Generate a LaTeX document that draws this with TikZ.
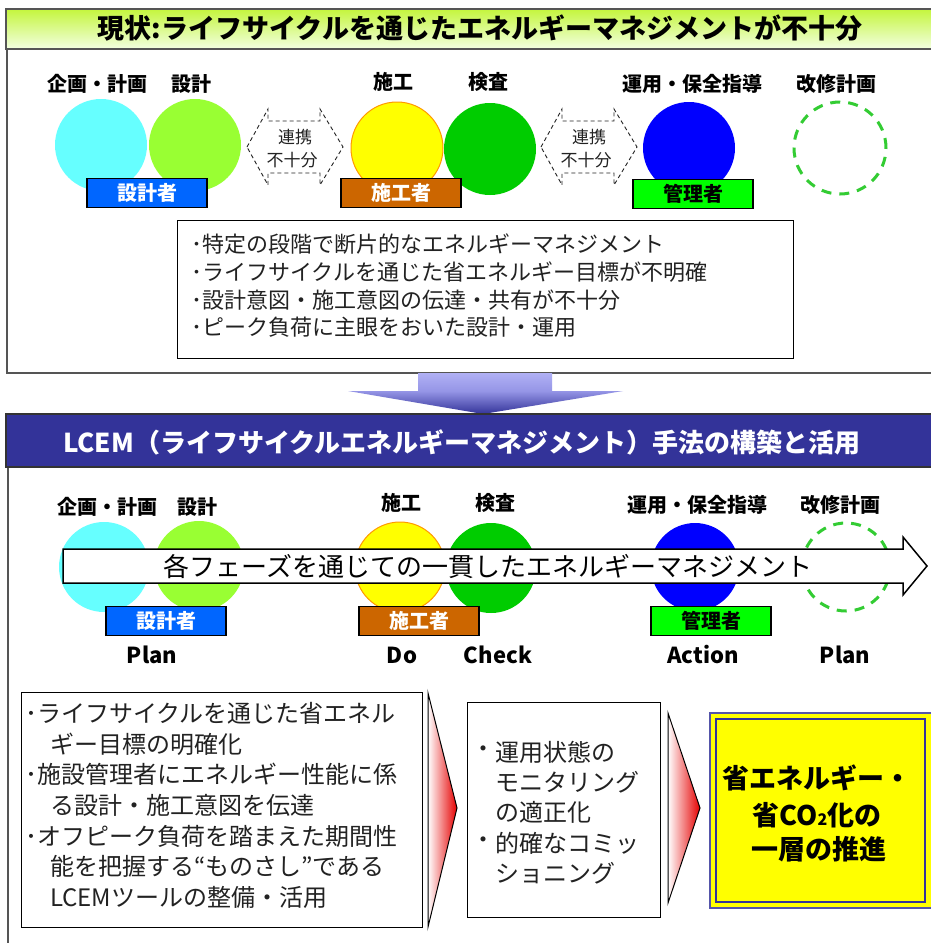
\documentclass[tikz,border=0pt]{standalone}
\usepackage{fontspec}
\setmainfont{Noto Sans CJK JP}
\definecolor{cCyan}{HTML}{66FFFF}
\definecolor{cLime}{HTML}{99FF33}
\definecolor{cYellow}{HTML}{FFFF00}
\definecolor{cOrange}{HTML}{FF9900}
\definecolor{cGreen}{HTML}{00CC00}
\definecolor{cBlue}{HTML}{0000FF}
\definecolor{cDash}{HTML}{33CC33}
\definecolor{rBlue}{HTML}{0066FF}
\definecolor{rBrown}{HTML}{CC6600}
\definecolor{rGreen}{HTML}{00FF00}
\definecolor{navy}{HTML}{333399}
\definecolor{frameGray}{HTML}{555555}
\definecolor{textGray}{HTML}{222222}
\definecolor{barTop}{HTML}{C4F53C}
\definecolor{barBot}{HTML}{F2FFE0}
\definecolor{lav}{HTML}{B0B0F5}
\definecolor{lav2}{HTML}{9595E6}
\definecolor{outerBlue}{HTML}{5555AA}
\tikzset{
  frameline/.style={draw=frameGray, line width=2pt},
  tlabel/.style={font=\bfseries\fontsize{20}{20}\selectfont, inner sep=0},
  rolebox/.style={draw=black, line width=1.2pt, minimum width=120pt, minimum height=29pt, inner sep=0, font=\bfseries\fontsize{20}{20}\selectfont},
  phase/.style={circle, minimum size=92pt, inner sep=0},
  pdca/.style={font=\bfseries\fontsize{22}{22}\selectfont, inner sep=0},
  bodytext/.style={font=\fontsize{22}{22}\selectfont, anchor=west, inner sep=0, text=textGray},
  lowtext/.style={font=\fontsize{24}{24}\selectfont, anchor=west, inner sep=0, text=textGray},
  linkarrow/.style={draw=textGray, line width=0.9pt, dash pattern=on 4pt off 3pt},
  linktext/.style={font=\fontsize{17}{17}\selectfont, inner sep=0, text=textGray},
  chevron/.style={draw=black, line width=1pt, left color=white, right color=red!90!black}
}
\begin{document}
\begin{tikzpicture}[x=1pt,y=-1pt]
\useasboundingbox (0,0) rectangle (931,943);
\fill[white] (0,0) rectangle (931,943);

% ---------------- top section ----------------
\draw[frameline] (7,48) -- (7,373) -- (945,373);
\node[draw=frameGray, line width=1.5pt, top color=barTop, bottom color=barBot,
      minimum width=940pt, minimum height=40pt, anchor=north west, inner sep=0] (bar1) at (5,8) {};
\node[text=black, font=\bfseries\fontsize{27}{27}\selectfont] (title1) at (480,28) {現状:ライフサイクルを通じたエネルギーマネジメントが不十分};

% circles
\node[phase, fill=cCyan] (a1) at (101,145) {};
\node[phase, fill=cLime] (a2) at (195,145) {};
\node[phase, fill=cYellow, draw=cOrange, line width=1pt] (a3) at (397,148) {};
\node[phase, fill=cGreen] (a4) at (490,149) {};
\node[phase, fill=cBlue] (a5) at (689,148) {};
\node[phase, draw=cDash, line width=3pt, dash pattern=on 10pt off 8pt, minimum size=92pt] (a6) at (840,148) {};

% labels
\node[tlabel] (la1) at (97,84) {企画・計画};
\node[tlabel] (la2) at (191,84) {設計};
\node[tlabel] (la3) at (393,82) {施工};
\node[tlabel] (la4) at (488,82) {検査};
\node[tlabel] (la5) at (692,84) {運用・保全指導};
\node[tlabel] (la6) at (836,84) {改修計画};

% role boxes
\node[rolebox, fill=rBlue, text=white] (ra1) at (147,193) {設計者};
\node[rolebox, fill=rBrown, text=white] (ra2) at (401,193) {施工者};
\node[rolebox, fill=rGreen, text=black] (ra3) at (693,194) {管理者};

% link arrows
\begin{scope}[shift={(295,147)}]
  \draw[linkarrow] (-48,0) -- (-27,-38) -- (-27,-26) -- (25,-26) -- (25,-38) -- (48,0)
     -- (25,38) -- (25,26) -- (-27,26) -- (-27,38) -- cycle;
  \node[linktext] (k1a) at (0,-10) {連携};
  \node[linktext] (k1b) at (-3,13) {不十分};
\end{scope}
\begin{scope}[shift={(589,147)}]
  \draw[linkarrow] (-48,0) -- (-27,-38) -- (-27,-26) -- (25,-26) -- (25,-38) -- (48,0)
     -- (25,38) -- (25,26) -- (-27,26) -- (-27,38) -- cycle;
  \node[linktext] (k2a) at (0,-10) {連携};
  \node[linktext] (k2b) at (-3,13) {不十分};
\end{scope}

% problem box
\node[draw=black, line width=1pt, fill=white, minimum width=616pt, minimum height=138pt,
      anchor=north west, inner sep=0] (pbox) at (177,220) {};
\node[bodytext] (p1) at (191,244) {･特定の段階で断片的なエネルギーマネジメント};
\node[bodytext] (p2) at (191,272) {･ライフサイクルを通じた省エネルギー目標が不明確};
\node[bodytext] (p3) at (191,300) {･設計意図・施工意図の伝達・共有が不十分};
\node[bodytext] (p4) at (191,327) {･ピーク負荷に主眼をおいた設計・運用};

% down arrow
\shade[top color=lav, bottom color=lav2] (418,373) rectangle (552,391);
\shade[top color=lav2, bottom color=navy] (348,391) -- (623,391) -- (483,414) -- cycle;

% ---------------- bottom section ----------------
\draw[frameline] (8,466) -- (8,950);
\node[draw=black!80, line width=1.5pt, fill=navy, minimum width=940pt, minimum height=53pt,
      anchor=north west, inner sep=0] (bar2) at (5,413) {};
\node[text=white, font=\bfseries\fontsize{26}{26}\selectfont] (title2) at (462,442) {LCEM（ライフサイクルエネルギーマネジメント）手法の構築と活用};

\node[phase, fill=cCyan, minimum size=90pt] (b1) at (104,567) {};
\node[phase, fill=cLime, minimum size=90pt] (b2) at (199,566) {};
\node[phase, fill=cYellow, draw=cOrange, line width=1pt, minimum size=90pt] (b3) at (400,567) {};
\node[phase, fill=cGreen, minimum size=90pt] (b4) at (491,568) {};
\node[phase, fill=cBlue, minimum size=88pt] (b5) at (695,567) {};
\node[phase, draw=cDash, line width=3pt, dash pattern=on 10pt off 8pt, minimum size=88pt] (b6) at (846,567) {};

\node[tlabel] (lb1) at (107,507) {企画・計画};
\node[tlabel] (lb2) at (197,507) {設計};
\node[tlabel] (lb3) at (401,503) {施工};
\node[tlabel] (lb4) at (495,503) {検査};
\node[tlabel] (lb5) at (697,505) {運用・保全指導};
\node[tlabel] (lb6) at (840,505) {改修計画};

% big white arrow
\draw[fill=white, line width=1.5pt] (63,549) -- (903,549) -- (903,537) -- (927,566)
   -- (903,595) -- (903,583) -- (63,583) -- cycle;
\node[text=black, font=\fontsize{26}{26}\selectfont] (arrt) at (488,567) {各フェーズを通じての一貫したエネルギーマネジメント};

\node[rolebox, fill=rBlue, text=white] (rb1) at (166,621) {設計者};
\node[rolebox, fill=rBrown, text=white] (rb2) at (419,621) {施工者};
\node[rolebox, fill=rGreen, text=black] (rb3) at (711,621) {管理者};

\node[pdca] (q1) at (152,655) {Plan};
\node[pdca] (q2) at (402,655) {Do};
\node[pdca] (q3) at (498,655) {Check};
\node[pdca] (q4) at (703,655) {Action};
\node[pdca] (q5) at (845,655) {Plan};

% result boxes
\node[draw=black, line width=1.2pt, fill=white, minimum width=401pt, minimum height=235pt,
      anchor=north west, inner sep=0] (box1) at (21,692) {};
\node[lowtext] (m1) at (25,713) {･ライフサイクルを通じた省エネル};
\node[lowtext] (m2) at (50,744) {ギー目標の明確化};
\node[lowtext] (m3) at (25,774) {･施設管理者にエネルギー性能に係};
\node[lowtext] (m4) at (50,805) {る設計・施工意図を伝達};
\node[lowtext] (m5) at (25,836) {･オフピーク負荷を踏まえた期間性};
\node[lowtext] (m6) at (50,866) {能を把握する“ものさし”である};
\node[lowtext] (m7) at (50,897) {LCEMツールの整備・活用};

\draw[chevron] (428,693) -- (457,808) -- (428,927) -- cycle;

\node[draw=black, line width=1.2pt, fill=white, minimum width=193pt, minimum height=215pt,
      anchor=north west, inner sep=0] (box2) at (467,702) {};
\node[lowtext] (n1) at (471,752) {・};
\node[lowtext] (n1t) at (495,752) {運用状態の};
\node[lowtext] (n2) at (495,782) {モニタリング};
\node[lowtext] (n3) at (495,812) {の適正化};
\node[lowtext] (n4) at (471,843) {・};
\node[lowtext] (n4t) at (495,843) {的確なコミッ};
\node[lowtext] (n5) at (495,873) {ショニング};

\draw[chevron] (668,713) -- (700,808) -- (668,903) -- cycle;

\node[draw=outerBlue, line width=2pt, fill=cYellow, minimum width=222pt, minimum height=195pt,
      anchor=north west, inner sep=0] (goalo) at (709,712) {};
\node[draw=navy, line width=2pt, minimum width=209pt, minimum height=183pt,
      anchor=north west, inner sep=0] (goal) at (715,718) {};
\node[font=\bfseries\fontsize{27}{27}\selectfont, inner sep=0] (g1) at (817,778) {省エネルギー・};
\node[font=\bfseries\fontsize{27}{27}\selectfont, inner sep=0] (g2) at (817,815) {省CO{\fontsize{16}{16}\selectfont 2}化の};
\node[font=\bfseries\fontsize{27}{27}\selectfont, inner sep=0] (g3) at (819,849) {一層の推進};
\end{tikzpicture}
\end{document}
